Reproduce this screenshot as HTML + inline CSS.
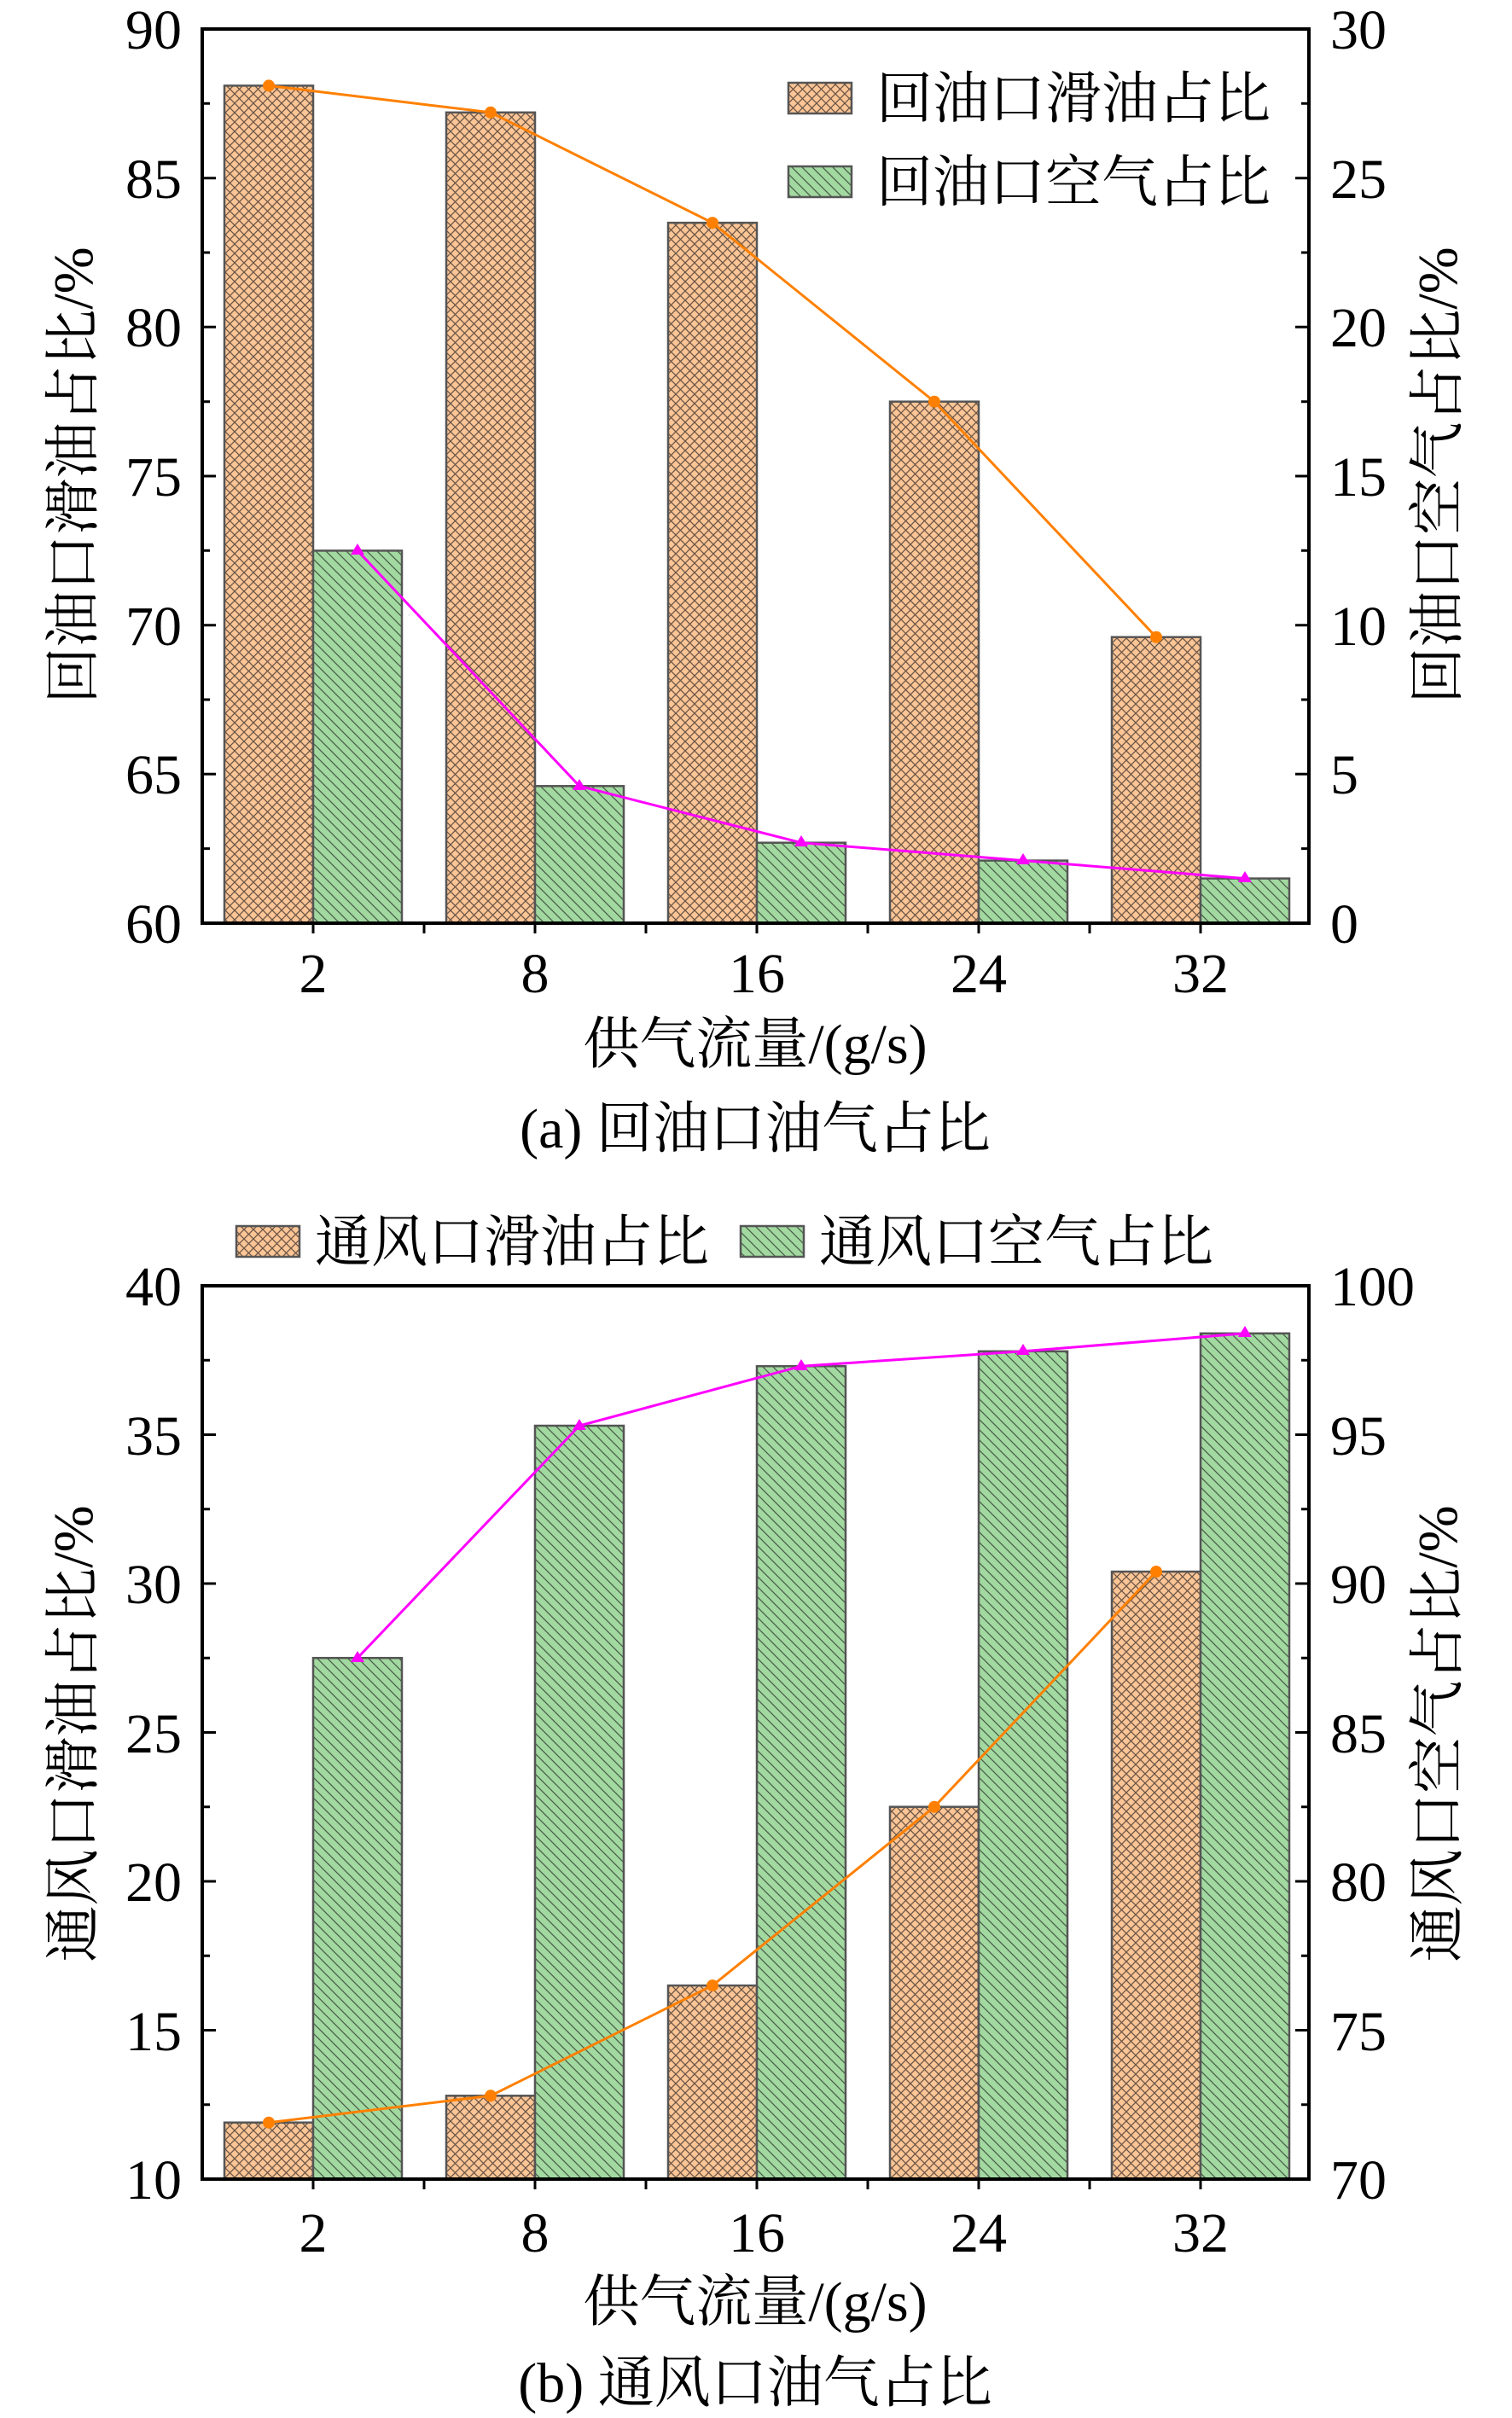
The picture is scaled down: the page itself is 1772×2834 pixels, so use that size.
<!DOCTYPE html>
<html><head><meta charset="utf-8"><style>body{margin:0;background:#fff}svg{display:block}</style></head><body>
<svg width="1772" height="2834" viewBox="0 0 1772 2834" xmlns="http://www.w3.org/2000/svg" font-family="'Liberation Serif','Noto Serif CJK SC',serif">
<defs>
<pattern id="po" patternUnits="userSpaceOnUse" width="11" height="11">
<rect width="11" height="11" fill="#fbc596"/>
<path d="M0 0L11 11M0 11L11 0" stroke="#6b5545" stroke-width="1.3"/>
</pattern>
<pattern id="pg" patternUnits="userSpaceOnUse" width="12" height="12">
<rect width="12" height="12" fill="#a2d9a0"/>
<path d="M-3 9L3 15M0 0L12 12M9 -3L15 3" stroke="#4a5e4a" stroke-width="1.3"/>
</pattern>
</defs>
<g stroke="#555" stroke-width="2.5">
<rect x="263" y="100.4" width="104" height="981.6" fill="url(#po)"/>
<rect x="523" y="131.8" width="104" height="950.2" fill="url(#po)"/>
<rect x="783" y="261.1" width="104" height="820.9" fill="url(#po)"/>
<rect x="1043" y="470.7" width="104" height="611.3" fill="url(#po)"/>
<rect x="1303" y="746.7" width="104" height="335.3" fill="url(#po)"/>
<rect x="367" y="645.4" width="104" height="436.6" fill="url(#pg)"/>
<rect x="627" y="921.3" width="104" height="160.7" fill="url(#pg)"/>
<rect x="887" y="987.7" width="104" height="94.3" fill="url(#pg)"/>
<rect x="1147" y="1008.6" width="104" height="73.4" fill="url(#pg)"/>
<rect x="1407" y="1029.6" width="104" height="52.4" fill="url(#pg)"/>
</g>
<polyline points="315,100.4 575,131.8 835,261.1 1095,470.7 1355,746.7" fill="none" stroke="#ff8000" stroke-width="3"/>
<g fill="#ff8000"><circle cx="315" cy="100.4" r="7"/><circle cx="575" cy="131.8" r="7"/><circle cx="835" cy="261.1" r="7"/><circle cx="1095" cy="470.7" r="7"/><circle cx="1355" cy="746.7" r="7"/></g>
<polyline points="419,645.4 679,921.3 939,987.7 1199,1008.6 1459,1029.6" fill="none" stroke="#ff00ff" stroke-width="3"/>
<g fill="#ff00ff"><path d="M419 637l8 13h-16z"/><path d="M679 913l8 13h-16z"/><path d="M939 979l8 13h-16z"/><path d="M1199 1000l8 13h-16z"/><path d="M1459 1021l8 13h-16z"/></g>
<rect x="237" y="34" width="1297" height="1048" fill="none" stroke="#000" stroke-width="4"/>
<g stroke="#000" stroke-width="3">
<path d="M237 907.3h16M237 732.7h16M237 558h16M237 383.3h16M237 208.7h16M237 994.6h9M237 820h9M237 645.3h9M237 470.7h9M237 296h9M237 121.3h9"/>
<path d="M1534 907.3h-16M1534 732.7h-16M1534 558h-16M1534 383.3h-16M1534 208.7h-16M1534 994.6h-9M1534 820h-9M1534 645.3h-9M1534 470.7h-9M1534 296h-9M1534 121.3h-9"/>
<path d="M367 1082v12M627 1082v12M887 1082v12M1147 1082v12M1407 1082v12M497 1082v12M757 1082v12M1017 1082v12M1277 1082v12"/>
</g>
<g font-size="66" text-anchor="end">
<text x="213" y="1105">60</text><text x="213" y="930">65</text><text x="213" y="756">70</text><text x="213" y="581">75</text><text x="213" y="406">80</text><text x="213" y="232">85</text><text x="213" y="57">90</text>
</g>
<g font-size="66" text-anchor="start">
<text x="1559" y="1105">0</text><text x="1559" y="930">5</text><text x="1559" y="756">10</text><text x="1559" y="581">15</text><text x="1559" y="406">20</text><text x="1559" y="232">25</text><text x="1559" y="57">30</text>
</g>
<g font-size="66" text-anchor="middle">
<text x="367" y="1163">2</text><text x="627" y="1163">8</text><text x="887" y="1163">16</text><text x="1147" y="1163">24</text><text x="1407" y="1163">32</text>
<text x="885" y="1246">供气流量/(g/s)</text>
<text x="885" y="1345">(a) 回油口油气占比</text>
<text transform="translate(108 557) rotate(-90)">回油口滑油占比/%</text>
<text transform="translate(1707 557) rotate(-90)">回油口空气占比/%</text>
</g>
<rect x="924" y="97" width="74" height="36" fill="url(#po)" stroke="#555" stroke-width="2.5"/>
<rect x="924" y="195" width="74" height="36" fill="url(#pg)" stroke="#555" stroke-width="2.5"/>
<g font-size="66"><text x="1027" y="138">回油口滑油占比</text><text x="1027" y="236">回油口空气占比</text></g>

<g stroke="#555" stroke-width="2.5">
<rect x="263" y="2487.7" width="104" height="66.3" fill="url(#po)"/>
<rect x="523" y="2456.3" width="104" height="97.7" fill="url(#po)"/>
<rect x="783" y="2327.1" width="104" height="226.9" fill="url(#po)"/>
<rect x="1043" y="2117.7" width="104" height="436.3" fill="url(#po)"/>
<rect x="1303" y="1842" width="104" height="712" fill="url(#po)"/>
<rect x="367" y="1943.2" width="104" height="610.8" fill="url(#pg)"/>
<rect x="627" y="1671" width="104" height="883" fill="url(#pg)"/>
<rect x="887" y="1601.2" width="104" height="952.8" fill="url(#pg)"/>
<rect x="1147" y="1583.8" width="104" height="970.2" fill="url(#pg)"/>
<rect x="1407" y="1562.8" width="104" height="991.2" fill="url(#pg)"/>
</g>
<polyline points="315,2487.7 575,2456.3 835,2327.1 1095,2117.7 1355,1842" fill="none" stroke="#ff8000" stroke-width="3"/>
<g fill="#ff8000"><circle cx="315" cy="2487.7" r="7"/><circle cx="575" cy="2456.3" r="7"/><circle cx="835" cy="2327.1" r="7"/><circle cx="1095" cy="2117.7" r="7"/><circle cx="1355" cy="1842" r="7"/></g>
<polyline points="419,1943.2 679,1671 939,1601.2 1199,1583.8 1459,1562.8" fill="none" stroke="#ff00ff" stroke-width="3"/>
<g fill="#ff00ff"><path d="M419 1935l8 13h-16z"/><path d="M679 1663l8 13h-16z"/><path d="M939 1593l8 13h-16z"/><path d="M1199 1575l8 13h-16z"/><path d="M1459 1554l8 13h-16z"/></g>
<rect x="237" y="1507" width="1297" height="1047" fill="none" stroke="#000" stroke-width="4"/>
<g stroke="#000" stroke-width="3">
<path d="M237 2379.5h16M237 2205h16M237 2030.5h16M237 1856h16M237 1681.5h16M237 2466.7h9M237 2292.2h9M237 2117.7h9M237 1943.2h9M237 1768.7h9M237 1594.2h9"/>
<path d="M1534 2379.5h-16M1534 2205h-16M1534 2030.5h-16M1534 1856h-16M1534 1681.5h-16M1534 2466.7h-9M1534 2292.2h-9M1534 2117.7h-9M1534 1943.2h-9M1534 1768.7h-9M1534 1594.2h-9"/>
<path d="M367 2554v12M627 2554v12M887 2554v12M1147 2554v12M1407 2554v12M497 2554v12M757 2554v12M1017 2554v12M1277 2554v12"/>
</g>
<g font-size="66" text-anchor="end">
<text x="213" y="2577">10</text><text x="213" y="2403">15</text><text x="213" y="2228">20</text><text x="213" y="2054">25</text><text x="213" y="1879">30</text><text x="213" y="1705">35</text><text x="213" y="1530">40</text>
</g>
<g font-size="66" text-anchor="start">
<text x="1559" y="2577">70</text><text x="1559" y="2403">75</text><text x="1559" y="2228">80</text><text x="1559" y="2054">85</text><text x="1559" y="1879">90</text><text x="1559" y="1705">95</text><text x="1559" y="1530">100</text>
</g>
<g font-size="66" text-anchor="middle">
<text x="367" y="2639">2</text><text x="627" y="2639">8</text><text x="887" y="2639">16</text><text x="1147" y="2639">24</text><text x="1407" y="2639">32</text>
<text x="885" y="2720">供气流量/(g/s)</text>
<text x="885" y="2815">(b) 通风口油气占比</text>
<text transform="translate(108 2032) rotate(-90)">通风口滑油占比/%</text>
<text transform="translate(1707 2032) rotate(-90)">通风口空气占比/%</text>
</g>
<rect x="277" y="1437" width="74" height="36" fill="url(#po)" stroke="#555" stroke-width="2.5"/>
<rect x="868" y="1437" width="74" height="36" fill="url(#pg)" stroke="#555" stroke-width="2.5"/>
<g font-size="66"><text x="369" y="1478">通风口滑油占比</text><text x="960" y="1478">通风口空气占比</text></g>
</svg>
</body></html>
